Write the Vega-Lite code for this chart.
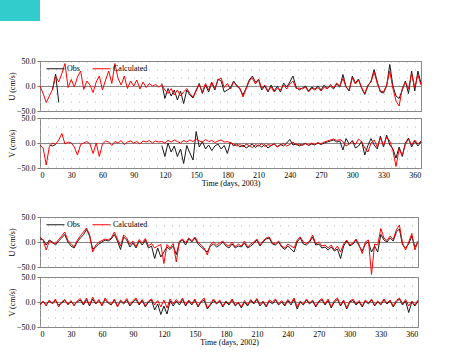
{
"$schema": "https://vega.github.io/schema/vega-lite/v6.json",
"padding": 0,
"background": "white",
"config": {
  "font": "Liberation Serif",
  "view": {"stroke": "#888888"},
  "axis": {"labelFont": "Liberation Serif", "titleFont": "Liberation Serif", "labelFontSize": 8, "titleFontSize": 8, "titleFontWeight": "normal", "labelColor": "#000000", "titleColor": "#000000", "tickColor": "#777777", "domain": false, "gridColor": "#888888", "gridOpacity": 1, "labelOverlap": false},
  "axisX": {"labelExpr": "datum.value % 30 === 0 ? datum.label : ''", "tickOpacity": {"condition": {"test": "datum.value % 30 === 0", "value": 1}, "value": 0}, "grid": true, "gridDash": [1, 7], "gridColor": "#b4b4b4", "tickSize": 3, "labelPadding": 0, "titlePadding": 0},
  "line": {"strokeWidth": 1, "invalid": "break-paths-filter-domains"},
  "legend": {"title": null, "orient": "none", "legendX": 6, "legendY": -2, "direction": "horizontal", "padding": 0, "symbolType": "stroke", "symbolSize": 324, "symbolStrokeWidth": 1, "labelFont": "Liberation Serif", "labelFontSize": 8, "labelOffset": 2, "columnPadding": 10}
},
"datasets": {
"y03": [
{"t":0,"u1":null,"u2":0,"v1":null,"v2":-4},
{"t":3,"u1":null,"u2":-15,"v1":null,"v2":-10},
{"t":6,"u1":null,"u2":-33,"v1":null,"v2":-44},
{"t":9,"u1":null,"u2":-20,"v1":-4,"v2":-7},
{"t":12,"u1":-8,"u2":-7,"v1":-6,"v2":0},
{"t":15,"u1":24,"u2":20,"v1":-3,"v2":-3},
{"t":18,"u1":-33,"u2":8,"v1":null,"v2":6},
{"t":21,"u1":null,"u2":25,"v1":null,"v2":19},
{"t":24,"u1":null,"u2":45,"v1":null,"v2":-2},
{"t":27,"u1":null,"u2":-3,"v1":null,"v2":2},
{"t":30,"u1":null,"u2":13,"v1":null,"v2":0},
{"t":33,"u1":null,"u2":-2,"v1":null,"v2":-8},
{"t":36,"u1":null,"u2":18,"v1":null,"v2":-24},
{"t":39,"u1":null,"u2":30,"v1":null,"v2":-3},
{"t":42,"u1":null,"u2":-7,"v1":null,"v2":0},
{"t":45,"u1":null,"u2":10,"v1":null,"v2":3},
{"t":48,"u1":null,"u2":2,"v1":null,"v2":-2},
{"t":51,"u1":null,"u2":-13,"v1":null,"v2":-21},
{"t":54,"u1":null,"u2":8,"v1":null,"v2":0},
{"t":57,"u1":null,"u2":20,"v1":null,"v2":-27},
{"t":60,"u1":null,"u2":-8,"v1":null,"v2":-2},
{"t":63,"u1":null,"u2":12,"v1":null,"v2":4},
{"t":66,"u1":null,"u2":30,"v1":null,"v2":2},
{"t":69,"u1":null,"u2":5,"v1":null,"v2":-5},
{"t":72,"u1":null,"u2":45,"v1":null,"v2":3},
{"t":75,"u1":null,"u2":15,"v1":null,"v2":0},
{"t":78,"u1":null,"u2":2,"v1":null,"v2":5},
{"t":81,"u1":null,"u2":20,"v1":null,"v2":-3},
{"t":84,"u1":null,"u2":-5,"v1":null,"v2":2},
{"t":87,"u1":null,"u2":10,"v1":null,"v2":4},
{"t":90,"u1":null,"u2":0,"v1":null,"v2":0},
{"t":93,"u1":null,"u2":12,"v1":null,"v2":3},
{"t":96,"u1":null,"u2":-6,"v1":null,"v2":-2},
{"t":99,"u1":null,"u2":8,"v1":null,"v2":4},
{"t":102,"u1":null,"u2":-3,"v1":null,"v2":2},
{"t":105,"u1":null,"u2":5,"v1":null,"v2":5},
{"t":108,"u1":null,"u2":0,"v1":null,"v2":0},
{"t":111,"u1":null,"u2":3,"v1":null,"v2":4},
{"t":114,"u1":null,"u2":-2,"v1":null,"v2":2},
{"t":117,"u1":5,"u2":2,"v1":-5,"v2":3},
{"t":120,"u1":-25,"u2":-8,"v1":-27,"v2":0},
{"t":123,"u1":-5,"u2":-15,"v1":0,"v2":5},
{"t":126,"u1":-20,"u2":-5,"v1":-18,"v2":2},
{"t":129,"u1":-8,"u2":-18,"v1":-6,"v2":6},
{"t":132,"u1":-28,"u2":-8,"v1":-27,"v2":3},
{"t":135,"u1":-10,"u2":-20,"v1":-12,"v2":0},
{"t":138,"u1":-35,"u2":-12,"v1":-41,"v2":5},
{"t":141,"u1":-8,"u2":-5,"v1":-5,"v2":2},
{"t":144,"u1":-18,"u2":-15,"v1":-20,"v2":6},
{"t":147,"u1":-24,"u2":-22,"v1":-34,"v2":3},
{"t":150,"u1":-8,"u2":-10,"v1":23,"v2":8},
{"t":153,"u1":5,"u2":3,"v1":-8,"v2":4},
{"t":156,"u1":-15,"u2":-12,"v1":3,"v2":2},
{"t":159,"u1":2,"u2":5,"v1":-12,"v2":7},
{"t":162,"u1":-12,"u2":-8,"v1":-4,"v2":3},
{"t":165,"u1":6,"u2":8,"v1":-15,"v2":5},
{"t":168,"u1":-8,"u2":-5,"v1":-6,"v2":1},
{"t":171,"u1":14,"u2":12,"v1":-2,"v2":4},
{"t":174,"u1":10,"u2":16,"v1":-12,"v2":6},
{"t":177,"u1":-12,"u2":-3,"v1":-5,"v2":2},
{"t":180,"u1":-8,"u2":5,"v1":-21,"v2":3},
{"t":183,"u1":-4,"u2":-6,"v1":2,"v2":0},
{"t":186,"u1":10,"u2":8,"v1":-6,"v2":-2},
{"t":189,"u1":0,"u2":2,"v1":-2,"v2":-6},
{"t":192,"u1":-6,"u2":-4,"v1":-8,"v2":-3},
{"t":195,"u1":-18,"u2":-22,"v1":-4,"v2":-8},
{"t":198,"u1":-4,"u2":-6,"v1":-10,"v2":-2},
{"t":201,"u1":12,"u2":10,"v1":-6,"v2":-5},
{"t":204,"u1":20,"u2":16,"v1":-2,"v2":-9},
{"t":207,"u1":8,"u2":4,"v1":-9,"v2":-3},
{"t":210,"u1":12,"u2":14,"v1":-4,"v2":-6},
{"t":213,"u1":-8,"u2":-5,"v1":-8,"v2":-1},
{"t":216,"u1":0,"u2":2,"v1":-3,"v2":-7},
{"t":219,"u1":-12,"u2":-10,"v1":-10,"v2":-3},
{"t":222,"u1":2,"u2":-2,"v1":-5,"v2":-5},
{"t":225,"u1":-10,"u2":-12,"v1":-2,"v2":-2},
{"t":228,"u1":0,"u2":-4,"v1":-7,"v2":-8},
{"t":231,"u1":-12,"u2":-8,"v1":-3,"v2":-4},
{"t":234,"u1":6,"u2":2,"v1":-6,"v2":-1},
{"t":237,"u1":-2,"u2":-6,"v1":0,"v2":-6},
{"t":240,"u1":8,"u2":4,"v1":7,"v2":-3},
{"t":243,"u1":20,"u2":10,"v1":-4,"v2":2},
{"t":246,"u1":-2,"u2":-5,"v1":-2,"v2":-4},
{"t":249,"u1":-8,"u2":-4,"v1":-6,"v2":-2},
{"t":252,"u1":-4,"u2":-6,"v1":-3,"v2":-5},
{"t":255,"u1":0,"u2":-2,"v1":-1,"v2":-1},
{"t":258,"u1":-10,"u2":-12,"v1":-5,"v2":-4},
{"t":261,"u1":-2,"u2":-4,"v1":-2,"v2":0},
{"t":264,"u1":-6,"u2":-8,"v1":-4,"v2":-3},
{"t":267,"u1":0,"u2":-3,"v1":0,"v2":1},
{"t":270,"u1":-8,"u2":-10,"v1":-3,"v2":-2},
{"t":273,"u1":2,"u2":-2,"v1":0,"v2":2},
{"t":276,"u1":-4,"u2":-6,"v1":2,"v2":4},
{"t":279,"u1":0,"u2":3,"v1":4,"v2":6},
{"t":282,"u1":-6,"u2":-4,"v1":6,"v2":8},
{"t":285,"u1":4,"u2":6,"v1":2,"v2":5},
{"t":288,"u1":-2,"u2":0,"v1":4,"v2":7},
{"t":291,"u1":23,"u2":15,"v1":-14,"v2":3},
{"t":294,"u1":-2,"u2":-2,"v1":9,"v2":-6},
{"t":297,"u1":-10,"u2":-8,"v1":-2,"v2":-2},
{"t":300,"u1":20,"u2":16,"v1":5,"v2":4},
{"t":303,"u1":6,"u2":4,"v1":-10,"v2":-3},
{"t":306,"u1":14,"u2":12,"v1":-6,"v2":8},
{"t":309,"u1":-5,"u2":-3,"v1":3,"v2":2},
{"t":312,"u1":-17,"u2":-15,"v1":-24,"v2":-10},
{"t":315,"u1":0,"u2":2,"v1":-5,"v2":-18},
{"t":318,"u1":10,"u2":8,"v1":9,"v2":0},
{"t":321,"u1":33,"u2":28,"v1":-4,"v2":6},
{"t":324,"u1":8,"u2":5,"v1":-12,"v2":-8},
{"t":327,"u1":-12,"u2":-10,"v1":14,"v2":10},
{"t":330,"u1":-14,"u2":-12,"v1":-8,"v2":-5},
{"t":333,"u1":0,"u2":2,"v1":16,"v2":12},
{"t":336,"u1":43,"u2":30,"v1":-4,"v2":4},
{"t":339,"u1":0,"u2":-5,"v1":-12,"v2":-15},
{"t":342,"u1":-20,"u2":-30,"v1":-30,"v2":-47},
{"t":345,"u1":-25,"u2":-40,"v1":-8,"v2":-12},
{"t":348,"u1":-8,"u2":-5,"v1":-27,"v2":-25},
{"t":351,"u1":10,"u2":8,"v1":0,"v2":-2},
{"t":354,"u1":-15,"u2":-6,"v1":10,"v2":8},
{"t":357,"u1":30,"u2":25,"v1":-8,"v2":-4},
{"t":360,"u1":-10,"u2":-3,"v1":4,"v2":6},
{"t":363,"u1":30,"u2":22,"v1":-6,"v2":-2},
{"t":366,"u1":5,"u2":2,"v1":2,"v2":4}
],
"y02": [
{"t":0,"u1":6,"u2":10,"v1":-4,"v2":-6},
{"t":3,"u1":5,"u2":3,"v1":0,"v2":2},
{"t":6,"u1":-6,"u2":-16,"v1":-5,"v2":-8},
{"t":9,"u1":4,"u2":2,"v1":2,"v2":4},
{"t":12,"u1":0,"u2":-2,"v1":-2,"v2":-4},
{"t":15,"u1":-6,"u2":-3,"v1":3,"v2":6},
{"t":18,"u1":2,"u2":5,"v1":-6,"v2":-10},
{"t":21,"u1":8,"u2":12,"v1":-2,"v2":0},
{"t":24,"u1":15,"u2":20,"v1":3,"v2":5},
{"t":27,"u1":0,"u2":3,"v1":-4,"v2":-6},
{"t":30,"u1":-8,"u2":-3,"v1":0,"v2":3},
{"t":33,"u1":-12,"u2":-10,"v1":-5,"v2":-8},
{"t":36,"u1":0,"u2":3,"v1":0,"v2":2},
{"t":39,"u1":8,"u2":12,"v1":4,"v2":7},
{"t":42,"u1":14,"u2":20,"v1":-6,"v2":-4},
{"t":45,"u1":25,"u2":28,"v1":5,"v2":8},
{"t":48,"u1":12,"u2":15,"v1":-8,"v2":-6},
{"t":51,"u1":-14,"u2":-20,"v1":6,"v2":10},
{"t":54,"u1":-10,"u2":-6,"v1":-4,"v2":-3},
{"t":57,"u1":-4,"u2":0,"v1":3,"v2":5},
{"t":60,"u1":0,"u2":3,"v1":-6,"v2":-8},
{"t":63,"u1":4,"u2":6,"v1":5,"v2":8},
{"t":66,"u1":2,"u2":4,"v1":-2,"v2":0},
{"t":69,"u1":6,"u2":8,"v1":-6,"v2":-5},
{"t":72,"u1":15,"u2":20,"v1":4,"v2":6},
{"t":75,"u1":2,"u2":6,"v1":-8,"v2":-10},
{"t":78,"u1":-15,"u2":-8,"v1":2,"v2":4},
{"t":81,"u1":10,"u2":14,"v1":-4,"v2":-2},
{"t":84,"u1":4,"u2":8,"v1":4,"v2":7},
{"t":87,"u1":-10,"u2":-5,"v1":-8,"v2":-6},
{"t":90,"u1":-2,"u2":2,"v1":0,"v2":3},
{"t":93,"u1":-12,"u2":-10,"v1":5,"v2":8},
{"t":96,"u1":2,"u2":5,"v1":-6,"v2":-4},
{"t":99,"u1":-6,"u2":-2,"v1":3,"v2":5},
{"t":102,"u1":4,"u2":7,"v1":-10,"v2":-8},
{"t":105,"u1":-12,"u2":-8,"v1":0,"v2":2},
{"t":108,"u1":-8,"u2":-3,"v1":4,"v2":6},
{"t":111,"u1":-33,"u2":-12,"v1":-16,"v2":-6},
{"t":114,"u1":-12,"u2":-8,"v1":-4,"v2":3},
{"t":117,"u1":-30,"u2":-5,"v1":-25,"v2":-10},
{"t":120,"u1":-20,"u2":-43,"v1":-8,"v2":4},
{"t":123,"u1":-10,"u2":-5,"v1":-24,"v2":-12},
{"t":126,"u1":-15,"u2":-12,"v1":2,"v2":6},
{"t":129,"u1":-8,"u2":-3,"v1":-8,"v2":-4},
{"t":132,"u1":-25,"u2":-40,"v1":2,"v2":5},
{"t":135,"u1":0,"u2":2,"v1":-6,"v2":-2},
{"t":138,"u1":4,"u2":6,"v1":5,"v2":8},
{"t":141,"u1":-6,"u2":-2,"v1":-8,"v2":-6},
{"t":144,"u1":6,"u2":8,"v1":2,"v2":4},
{"t":147,"u1":0,"u2":2,"v1":-6,"v2":-3},
{"t":150,"u1":8,"u2":10,"v1":4,"v2":6},
{"t":153,"u1":-4,"u2":0,"v1":-10,"v2":-8},
{"t":156,"u1":-10,"u2":-6,"v1":0,"v2":2},
{"t":159,"u1":-15,"u2":-12,"v1":4,"v2":8},
{"t":162,"u1":-20,"u2":-26,"v1":-14,"v2":-12},
{"t":165,"u1":-8,"u2":-5,"v1":-6,"v2":-4},
{"t":168,"u1":-4,"u2":0,"v1":3,"v2":6},
{"t":171,"u1":-10,"u2":-6,"v1":-4,"v2":-2},
{"t":174,"u1":-6,"u2":-2,"v1":2,"v2":4},
{"t":177,"u1":0,"u2":2,"v1":-10,"v2":-8},
{"t":180,"u1":-8,"u2":-5,"v1":0,"v2":2},
{"t":183,"u1":-12,"u2":-8,"v1":-6,"v2":-4},
{"t":186,"u1":-4,"u2":0,"v1":4,"v2":6},
{"t":189,"u1":-12,"u2":-10,"v1":-8,"v2":-6},
{"t":192,"u1":-8,"u2":-4,"v1":-2,"v2":0},
{"t":195,"u1":-10,"u2":-8,"v1":-12,"v2":-10},
{"t":198,"u1":-2,"u2":2,"v1":0,"v2":3},
{"t":201,"u1":-12,"u2":-10,"v1":-8,"v2":-6},
{"t":204,"u1":-8,"u2":-4,"v1":3,"v2":5},
{"t":207,"u1":-3,"u2":0,"v1":-4,"v2":-2},
{"t":210,"u1":4,"u2":6,"v1":5,"v2":7},
{"t":213,"u1":-8,"u2":-6,"v1":-8,"v2":-5},
{"t":216,"u1":0,"u2":2,"v1":0,"v2":2},
{"t":219,"u1":6,"u2":8,"v1":-10,"v2":-8},
{"t":222,"u1":8,"u2":10,"v1":2,"v2":4},
{"t":225,"u1":-4,"u2":-2,"v1":-4,"v2":0},
{"t":228,"u1":-6,"u2":-4,"v1":4,"v2":6},
{"t":231,"u1":0,"u2":2,"v1":-6,"v2":-4},
{"t":234,"u1":-10,"u2":-8,"v1":0,"v2":3},
{"t":237,"u1":-15,"u2":-12,"v1":-8,"v2":-6},
{"t":240,"u1":-8,"u2":-4,"v1":3,"v2":5},
{"t":243,"u1":-14,"u2":-8,"v1":-6,"v2":-2},
{"t":246,"u1":-20,"u2":-12,"v1":5,"v2":8},
{"t":249,"u1":0,"u2":4,"v1":-14,"v2":-10},
{"t":252,"u1":8,"u2":10,"v1":0,"v2":2},
{"t":255,"u1":-4,"u2":0,"v1":-6,"v2":-4},
{"t":258,"u1":-6,"u2":-3,"v1":4,"v2":6},
{"t":261,"u1":0,"u2":2,"v1":-4,"v2":-2},
{"t":264,"u1":10,"u2":14,"v1":2,"v2":4},
{"t":267,"u1":-6,"u2":-4,"v1":-10,"v2":-8},
{"t":270,"u1":-4,"u2":0,"v1":0,"v2":2},
{"t":273,"u1":-12,"u2":-8,"v1":4,"v2":7},
{"t":276,"u1":-10,"u2":-6,"v1":-6,"v2":-4},
{"t":279,"u1":-16,"u2":-12,"v1":3,"v2":6},
{"t":282,"u1":-10,"u2":-6,"v1":-12,"v2":-10},
{"t":285,"u1":-18,"u2":-16,"v1":0,"v2":3},
{"t":288,"u1":-14,"u2":-8,"v1":5,"v2":8},
{"t":291,"u1":-33,"u2":-20,"v1":-8,"v2":-6},
{"t":294,"u1":-8,"u2":-4,"v1":2,"v2":4},
{"t":297,"u1":2,"u2":4,"v1":-14,"v2":-12},
{"t":300,"u1":-8,"u2":-6,"v1":0,"v2":2},
{"t":303,"u1":-4,"u2":-2,"v1":3,"v2":6},
{"t":306,"u1":4,"u2":6,"v1":-6,"v2":-4},
{"t":309,"u1":-8,"u2":-6,"v1":0,"v2":3},
{"t":312,"u1":-18,"u2":-23,"v1":-10,"v2":-8},
{"t":315,"u1":-4,"u2":0,"v1":2,"v2":4},
{"t":318,"u1":0,"u2":4,"v1":-4,"v2":-2},
{"t":321,"u1":-20,"u2":-65,"v1":4,"v2":6},
{"t":324,"u1":-8,"u2":-4,"v1":-8,"v2":-6},
{"t":327,"u1":-20,"u2":-6,"v1":0,"v2":2},
{"t":330,"u1":15,"u2":27,"v1":-6,"v2":-4},
{"t":333,"u1":4,"u2":8,"v1":4,"v2":6},
{"t":336,"u1":0,"u2":3,"v1":-4,"v2":-2},
{"t":339,"u1":8,"u2":12,"v1":2,"v2":4},
{"t":342,"u1":2,"u2":5,"v1":-10,"v2":-8},
{"t":345,"u1":20,"u2":24,"v1":0,"v2":3},
{"t":348,"u1":26,"u2":34,"v1":6,"v2":8},
{"t":351,"u1":-6,"u2":-2,"v1":-6,"v2":-4},
{"t":354,"u1":-12,"u2":-16,"v1":2,"v2":5},
{"t":357,"u1":-4,"u2":0,"v1":-21,"v2":-8},
{"t":360,"u1":12,"u2":17,"v1":0,"v2":2},
{"t":363,"u1":-10,"u2":-16,"v1":-8,"v2":-6},
{"t":366,"u1":0,"u2":2,"v1":2,"v2":4}
]
},
"hconcat": [
  {
    "width": 40, "height": 21,
    "data": {"values": [{}]},
    "mark": {"type": "rect", "color": "#33cccc"},
    "encoding": {},
    "view": {"stroke": null}
  },
  {
    "vconcat": [
      {
        "width": 1, "height": 21,
        "data": {"values": [{}]},
        "mark": {"type": "point", "opacity": 0},
        "encoding": {},
        "view": {"stroke": null}
      },
      {
        "vconcat": [
          {
            "vconcat": [
              {
                "width": 381, "height": 50,
                "data": {"name": "y03"},
                "transform": [{"fold": ["u1", "u2"], "as": ["s", "v"]}],
                "mark": {"type": "line"},
                "encoding": {
                  "x": {"field": "t", "type": "quantitative", "scale": {"domain": [0, 366], "nice": false, "zero": false}, "axis": {"values": [0,7.5,15,22.5,30,37.5,45,52.5,60,67.5,75,82.5,90,97.5,105,112.5,120,127.5,135,142.5,150,157.5,165,172.5,180,187.5,195,202.5,210,217.5,225,232.5,240,247.5,255,262.5,270,277.5,285,292.5,300,307.5,315,322.5,330,337.5,345,352.5,360], "labels": false, "title": null}},
                  "y": {"field": "v", "type": "quantitative", "title": "U (cm/s)", "scale": {"domain": [-50, 50], "nice": false}, "axis": {"values": [-50, 0, 50], "format": ".1f", "tickSize": 3, "labelPadding": 2, "titlePadding": 0, "grid": true}},
                  "color": {"field": "s", "type": "nominal", "scale": {"domain": ["u1", "u2"], "range": ["#1a1a1a", "#ff0000"]},
                    "legend": {"labelExpr": "datum.value === 'u1' ? 'Obs' : 'Calculated'",
                      "encode": {"labels": {"update": {"fill": {"signal": "datum.value === 'u2' ? '#ff0000' : '#000000'"}}}}}}
                }
              },
              {
                "width": 381, "height": 50,
                "data": {"name": "y03"},
                "transform": [{"fold": ["v1", "v2"], "as": ["s", "v"]}],
                "mark": {"type": "line"},
                "encoding": {
                  "x": {"field": "t", "type": "quantitative", "title": "Time (days, 2003)", "scale": {"domain": [0, 366], "nice": false, "zero": false}, "axis": {"values": [0,7.5,15,22.5,30,37.5,45,52.5,60,67.5,75,82.5,90,97.5,105,112.5,120,127.5,135,142.5,150,157.5,165,172.5,180,187.5,195,202.5,210,217.5,225,232.5,240,247.5,255,262.5,270,277.5,285,292.5,300,307.5,315,322.5,330,337.5,345,352.5,360]}},
                  "y": {"field": "v", "type": "quantitative", "title": "V (cm/s)", "scale": {"domain": [-50, 50], "nice": false}, "axis": {"values": [-50, 0, 50], "format": ".1f", "tickSize": 3, "labelPadding": 2, "titlePadding": 0, "grid": true}},
                  "color": {"field": "s", "type": "nominal", "scale": {"domain": ["v1", "v2"], "range": ["#1a1a1a", "#ff0000"]}, "legend": null}
                }
              }
            ],
            "spacing": -3,
            "resolve": {"scale": {"color": "independent"}, "legend": {"color": "independent"}}
          },
          {
            "vconcat": [
              {
                "width": 378, "height": 50,
                "data": {"name": "y02"},
                "transform": [{"fold": ["u1", "u2"], "as": ["s", "v"]}],
                "mark": {"type": "line"},
                "encoding": {
                  "x": {"field": "t", "type": "quantitative", "scale": {"domain": [0, 366], "nice": false, "zero": false}, "axis": {"values": [0,7.5,15,22.5,30,37.5,45,52.5,60,67.5,75,82.5,90,97.5,105,112.5,120,127.5,135,142.5,150,157.5,165,172.5,180,187.5,195,202.5,210,217.5,225,232.5,240,247.5,255,262.5,270,277.5,285,292.5,300,307.5,315,322.5,330,337.5,345,352.5,360], "labels": false, "title": null}},
                  "y": {"field": "v", "type": "quantitative", "title": "U (cm/s)", "scale": {"domain": [-50, 50], "nice": false}, "axis": {"values": [-50, 0, 50], "format": ".1f", "tickSize": 3, "labelPadding": 2, "titlePadding": 0, "grid": true}},
                  "color": {"field": "s", "type": "nominal", "scale": {"domain": ["u1", "u2"], "range": ["#1a1a1a", "#ff0000"]},
                    "legend": {"labelExpr": "datum.value === 'u1' ? 'Obs' : 'Calculated'",
                      "encode": {"labels": {"update": {"fill": {"signal": "datum.value === 'u2' ? '#ff0000' : '#000000'"}}}}}}
                }
              },
              {
                "width": 378, "height": 50,
                "data": {"name": "y02"},
                "transform": [{"fold": ["v1", "v2"], "as": ["s", "v"]}],
                "mark": {"type": "line"},
                "encoding": {
                  "x": {"field": "t", "type": "quantitative", "title": "Time (days, 2002)", "scale": {"domain": [0, 366], "nice": false, "zero": false}, "axis": {"values": [0,7.5,15,22.5,30,37.5,45,52.5,60,67.5,75,82.5,90,97.5,105,112.5,120,127.5,135,142.5,150,157.5,165,172.5,180,187.5,195,202.5,210,217.5,225,232.5,240,247.5,255,262.5,270,277.5,285,292.5,300,307.5,315,322.5,330,337.5,345,352.5,360]}},
                  "y": {"field": "v", "type": "quantitative", "title": "V (cm/s)", "scale": {"domain": [-50, 50], "nice": false}, "axis": {"values": [-50, 0, 50], "format": ".1f", "tickSize": 3, "labelPadding": 2, "titlePadding": 0, "grid": true}},
                  "color": {"field": "s", "type": "nominal", "scale": {"domain": ["v1", "v2"], "range": ["#1a1a1a", "#ff0000"]}, "legend": null}
                }
              }
            ],
            "spacing": -7,
            "resolve": {"scale": {"color": "independent"}, "legend": {"color": "independent"}}
          }
        ],
        "spacing": 24,
        "resolve": {"scale": {"color": "independent"}, "legend": {"color": "independent"}}
      }
    ],
    "spacing": 35,
    "resolve": {"scale": {"color": "independent"}, "legend": {"color": "independent"}}
  }
],
"bounds": "flush",
"spacing": -1,
"resolve": {"scale": {"color": "independent"}, "legend": {"color": "independent"}}
}
